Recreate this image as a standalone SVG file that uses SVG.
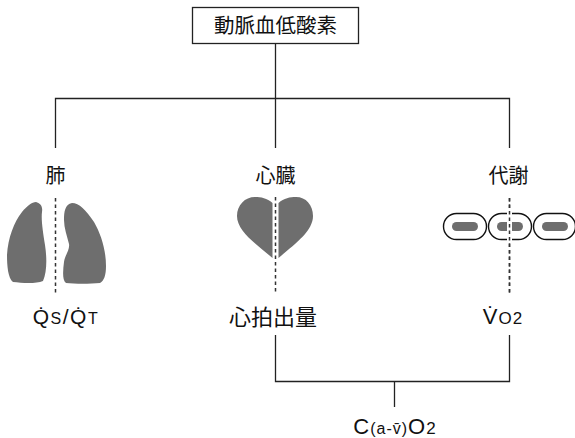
<svg xmlns="http://www.w3.org/2000/svg" width="575" height="438" viewBox="0 0 575 438">
  <style>
    .line { stroke: #222; stroke-width: 1.3; fill: none; }
    .dash { stroke: #333; stroke-width: 1.5; stroke-dasharray: 3.5 3; fill: none; }
    .organ { fill: #6e6e6e; }
    .cell { fill: #fff; stroke: #111; stroke-width: 1.4; }
    .jp { font-family: "Noto Sans CJK JP", "Liberation Sans", sans-serif; fill: #111; text-anchor: middle; }
    .lat { font-family: "Liberation Sans", Arial, sans-serif; fill: #111; text-anchor: middle; }
  </style>

  <rect width="575" height="438" fill="#fff"/>

  <!-- tree connectors -->
  <g id="connectors">
    <path class="line" d="M275.5,44 V98.5 M55.5,148 V98.5 H509.5 V148 M275.5,98.5 V148"/>
    <path class="line" d="M275.5,335 V381.5 H509.5 V335 M394.5,381.5 V407"/>
    <path class="dash" d="M55.5,198 V294"/>
    <path class="dash" d="M275.5,197 V293"/>
    <path class="dash" d="M509.5,198 V293"/>
  </g>

  <!-- root -->
  <g id="root">
    <rect x="192.5" y="7.5" width="166" height="36" fill="#fff" stroke="#222" stroke-width="1.3"/>
    <text class="jp" x="275.5" y="33" font-size="20.5">動脈血低酸素</text>
  </g>

  <!-- lung -->
  <g id="lung">
    <text class="jp" x="55.5" y="183" font-size="20">肺</text>
    <path class="organ" d="M36,202 C40,203 43,206 42,212 C41,220 43,232 45,245 C47,258 47,272 43,281 C36,284 22,283 13,282 C8,278 7,266 7,255 C8,238 14,222 22,212 C27,206 32,202 36,202 Z"/>
    <path class="organ" d="M72,203 C79,203 86,210 94,222 C101,234 106,250 106,266 C106,275 104,281 100,283 C90,284 75,284 66,283 C62,280 63,270 64,262 C65,255 70,250 69,244 C67,236 64,228 64,220 C64,212 65,204 72,203 Z"/>
    <text class="lat" x="66" y="324" font-size="21" letter-spacing="1.5">Q&#x307;<tspan font-size="16">S</tspan>/Q&#x307;<tspan font-size="16">T</tspan></text>
  </g>

  <!-- heart -->
  <g id="heart">
    <text class="jp" x="275.5" y="183" font-size="20">心臓</text>
    <path class="organ" d="M272.5,203 C267,198 261,197 255,197 C245,197 237,205 237,216 C237,231 256,244 272.5,258 Z"/>
    <path class="organ" d="M278.5,203 C284,198 290,197 296,197 C306,197 313,205 313,216 C313,231 295,244 278.5,258 Z"/>
    <text class="jp" x="273" y="325" font-size="22">心拍出量</text>
  </g>

  <!-- metabolism -->
  <g id="metabolism">
    <text class="jp" x="508.5" y="183" font-size="20">代謝</text>
    <rect class="cell" x="443.5" y="213.5" width="43" height="26" rx="13"/>
    <rect class="organ" x="452" y="222" width="26" height="9" rx="4.5"/>
    <rect class="cell" x="488.5" y="213.5" width="43" height="26" rx="13"/>
    <rect class="organ" x="497" y="222" width="26" height="9" rx="4.5"/>
    <rect x="507" y="211" width="5" height="31" fill="#fff"/>
    <rect class="cell" x="533.5" y="213.5" width="42" height="26" rx="13"/>
    <rect class="organ" x="542" y="222" width="26" height="9" rx="4.5"/>
    <path class="dash" d="M509.5,198 V293"/>
    <text class="lat" x="503" y="324" font-size="22" letter-spacing="1">V&#x307;<tspan font-size="17">O2</tspan></text>
  </g>

  <!-- combined content -->
  <g id="content">
    <text class="lat" x="395" y="434" font-size="22" letter-spacing="1">C<tspan font-size="16">(a-v&#x304;)</tspan>O<tspan font-size="17">2</tspan></text>
  </g>
</svg>
